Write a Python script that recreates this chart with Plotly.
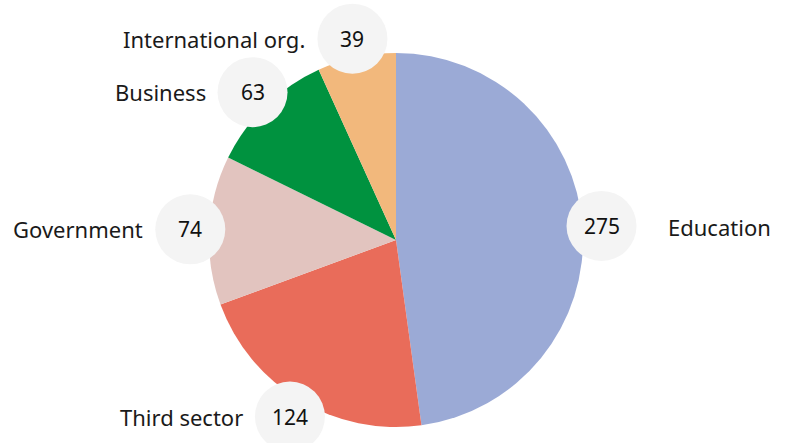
import math
import plotly.graph_objects as go

# Sector breakdown
categories = ["Education", "Third sector", "Government", "Business", "International org."]
values = [275, 124, 74, 63, 39]
colors = ["#9BAAD6", "#E96C5A", "#E2C4BF", "#00923F", "#F2B87C"]

W, H = 785, 443
CX, CY, R = 396, 240, 187          # pie centre and radius in pixels
BADGE_R = 35                        # radius of the value badges
BADGE_D = 206                       # distance of badge centre from pie centre
FONT = "Noto Sans"


def px(x):
    return x / W


def py(y):
    return 1 - y / H


fig = go.Figure(
    go.Pie(
        labels=categories,
        values=values,
        sort=False,
        direction="clockwise",
        rotation=0,
        marker=dict(colors=colors, line=dict(width=0)),
        textinfo="none",
        hoverinfo="label+value",
        showlegend=False,
        domain=dict(x=[px(CX - R), px(CX + R)], y=[py(CY + R), py(CY - R)]),
    )
)

shapes, annotations = [], []
total = sum(values)
cum = 0
for name, v in zip(categories, values):
    mid = (cum + v / 2) / total * 2 * math.pi
    cum += v
    bx = CX + BADGE_D * math.sin(mid)
    by = CY - BADGE_D * math.cos(mid)
    shapes.append(dict(
        type="circle", xref="paper", yref="paper",
        xsizemode="pixel", ysizemode="pixel",
        xanchor=px(bx), yanchor=py(by),
        x0=-BADGE_R, x1=BADGE_R, y0=-BADGE_R, y1=BADGE_R,
        fillcolor="#F4F4F4", line=dict(width=0), layer="above",
    ))
    annotations.append(dict(
        x=px(bx), y=py(by), xref="paper", yref="paper",
        text=str(v), showarrow=False,
        font=dict(family=FONT, size=21, color="#111111"),
        xanchor="center", yanchor="middle",
    ))
    right_side = math.sin(mid) > 0
    if right_side:
        annotations.append(dict(
            x=px(bx + 64), y=py(by + 1), xref="paper", yref="paper",
            text=name, showarrow=False,
            font=dict(family=FONT, size=22, color="#1a1a1a"),
            xanchor="left", yanchor="middle",
        ))
    else:
        annotations.append(dict(
            x=px(bx - 45), y=py(by), xref="paper", yref="paper",
            text=name, showarrow=False,
            font=dict(family=FONT, size=22, color="#1a1a1a"),
            xanchor="right", yanchor="middle",
        ))

fig.update_layout(
    width=W, height=H,
    margin=dict(l=0, r=0, t=0, b=0),
    paper_bgcolor="white", plot_bgcolor="white",
    shapes=shapes, annotations=annotations,
)

fig.write_html("out.html")
